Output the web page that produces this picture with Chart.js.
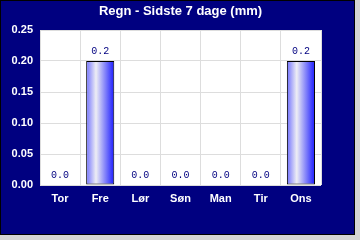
<!DOCTYPE html>
<html>
<head>
<meta charset="utf-8">
<script src="https://cdn.jsdelivr.net/npm/chart.js@4"></script>
<style>
  body { margin: 0; background: #d4d4d4; }
  canvas { display: block; }
</style>
</head>
<body>
<canvas id="regnChart" width="355" height="235"></canvas>
<script>
const dage = ["Tor", "Fre", "Lør", "Søn", "Man", "Tir", "Ons"];
const regn = [0.0, 0.2, 0.0, 0.0, 0.0, 0.0, 0.2];
const yTicks = [0.00, 0.05, 0.10, 0.15, 0.20, 0.25];

// gradient per bar: lys midte, mørkere blå kanter
function barGradient(c) {
  const chart = c.chart;
  const x = chart.scales.x;
  if (!x || !chart.chartArea) return "#6060ff";
  const w = (x.width / dage.length) * 0.7;
  const x0 = x.getPixelForValue(c.dataIndex) - w / 2;
  const g = chart.ctx.createLinearGradient(x0, 0, x0 + w, 0);
  g.addColorStop(0, "#7070ff");
  g.addColorStop(0.35, "#eeeef4");
  g.addColorStop(1, "#1a1aff");
  return g;
}

const baggrund = {
  id: "baggrund",
  beforeDraw(chart) {
    const ctx = chart.ctx;
    const a = chart.chartArea;
    ctx.save();
    ctx.fillStyle = "#000080";
    ctx.fillRect(0, 0, chart.width, chart.height);
    ctx.strokeStyle = "#000000";
    ctx.lineWidth = 1;
    ctx.strokeRect(0.5, 0.5, chart.width - 1, chart.height - 1);
    ctx.fillStyle = "#ffffff";
    ctx.fillRect(a.left, a.top, a.right - a.left, a.bottom - a.top);
    ctx.restore();
  },
  afterDatasetsDraw(chart) {
    const ctx = chart.ctx;
    ctx.save();
    ctx.font = "10px 'Liberation Mono', 'DejaVu Sans Mono', monospace";
    ctx.fillStyle = "#000080";
    ctx.textAlign = "center";
    ctx.textBaseline = "alphabetic";
    chart.getDatasetMeta(0).data.forEach((bar, i) => {
      ctx.fillText(regn[i].toFixed(1), bar.x, bar.y - 7);
    });
    ctx.restore();
  }
};

new Chart(document.getElementById("regnChart"), {
  type: "bar",
  data: {
    labels: dage,
    datasets: [{
      data: regn,
      backgroundColor: barGradient,
      borderColor: "#000000",
      borderWidth: 1,
      borderSkipped: false,
      barPercentage: 0.7,
      categoryPercentage: 1.0
    }]
  },
  options: {
    responsive: false,
    animation: false,
    devicePixelRatio: 1,
    layout: { padding: { left: 0, right: 34, top: 0, bottom: 0 } },
    plugins: {
      legend: { display: false },
      tooltip: { enabled: false },
      title: {
        display: true,
        text: "Regn - Sidste 7 dage (mm)",
        color: "#ffffff",
        fullSize: false,
        font: { family: "Arial, 'Liberation Sans', sans-serif", size: 13, weight: "bold" },
        padding: { top: 4, bottom: 10.4 }
      }
    },
    scales: {
      x: {
        grid: { color: "#dddddd", drawTicks: false, offset: true },
        border: { display: false },
        ticks: {
          color: "#ffffff",
          padding: 7,
          font: { family: "Arial, 'Liberation Sans', sans-serif", size: 11, weight: "bold" }
        },
        afterFit(scale) { scale.height = 50; }
      },
      y: {
        min: 0,
        max: 0.25,
        afterBuildTicks(scale) { scale.ticks = yTicks.map((v) => ({ value: v })); },
        grid: { color: "#dddddd", drawTicks: false },
        border: { display: false },
        ticks: {
          color: "#ffffff",
          padding: 7,
          font: { family: "Arial, 'Liberation Sans', sans-serif", size: 11, weight: "bold" },
          callback: (v) => Number(v).toFixed(2)
        },
        afterFit(scale) { scale.width = 40; }
      }
    }
  },
  plugins: [baggrund]
});
</script>
</body>
</html>
